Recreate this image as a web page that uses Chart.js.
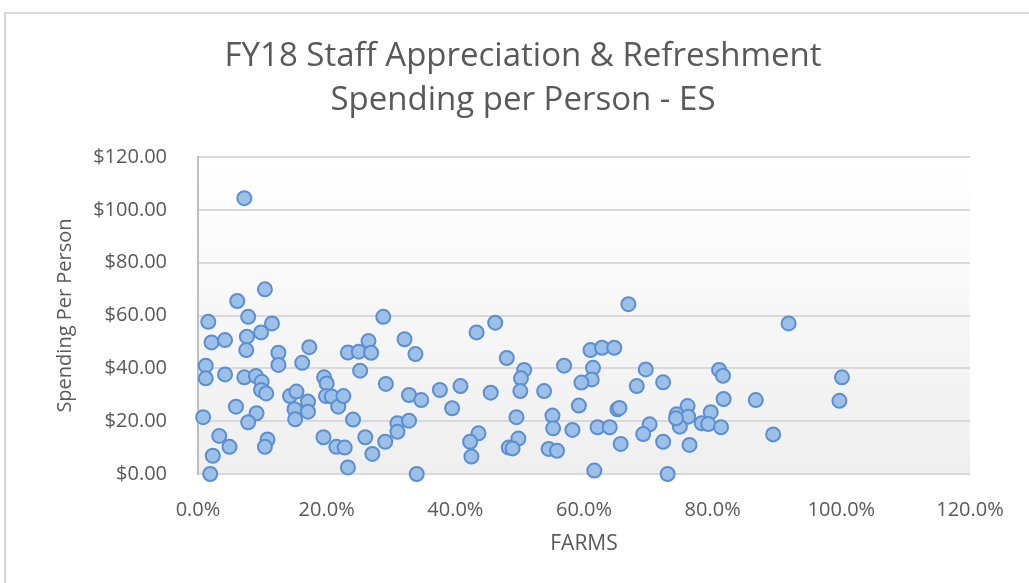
<!DOCTYPE html>
<html>
<head>
<meta charset="utf-8">
<script src="https://cdn.jsdelivr.net/npm/chart.js@4.4.0/dist/chart.umd.min.js"></script>
<style>
html,body{margin:0;padding:0;background:#fff;}
#wrap{position:relative;width:1029px;height:583px;overflow:hidden;}
#frame{position:absolute;left:4px;top:12px;width:1100px;height:700px;border:2px solid #d9d9d9;box-sizing:border-box;}
canvas{position:absolute;left:0;top:0;}
</style>
</head>
<body>
<div id="wrap">
    <div id="frame"></div>
    <canvas id="chart" width="1029" height="583"></canvas>
</div>
<script>

/* =========================================
   Data
========================================= */

const chartTitle = ["FY18 Staff Appreciation & Refreshment", "Spending per Person - ES"];

// FARMS share, in percent
const farmsPct = [
    7.2, 10.4, 6.1, 1.6, 7.8, 11.5, 9.8, 7.6, 2.1, 4.2,
    7.5, 12.5, 17.3, 12.5, 16.2, 1.2, 1.2, 4.2, 7.2, 9.0,
    9.9, 9.8, 10.6, 14.3, 15.3, 15.0, 15.1, 17.1, 17.1, 19.6,
    20.0, 19.9, 20.8, 21.8, 22.6, 23.3, 0.8, 5.9, 9.1, 7.8,
    3.3, 4.9, 10.8, 10.4, 2.3, 1.9, 19.5, 21.5, 22.8, 23.3,
    24.1, 28.8, 26.5, 25.0, 26.9, 32.1, 33.8, 43.3, 46.2, 25.2,
    29.2, 32.8, 34.7, 37.6, 40.8, 45.5, 39.5, 31.0, 32.8, 31.0,
    26.0, 29.1, 27.1, 34.0, 43.6, 42.3, 42.5, 48.3, 66.9, 48.0,
    61.0, 62.8, 64.7, 50.7, 50.2, 50.1, 56.9, 61.4, 61.2, 59.6,
    53.8, 69.6, 68.2, 72.3, 59.2, 65.2, 65.5, 49.5, 55.1, 55.2,
    58.2, 62.1, 64.0, 70.2, 69.2, 72.3, 49.8, 48.9, 54.5, 55.8,
    65.7, 61.6, 73.0, 91.8, 81.0, 81.6, 100.1, 99.7, 81.7, 86.7,
    76.1, 74.4, 76.2, 79.7, 74.9, 74.3, 78.3, 79.3, 81.3, 89.4,
    76.4
];

// Spending per person, in dollars
const spending = [
    104.4, 69.9, 65.5, 57.6, 59.5, 57.0, 53.6, 52.0, 49.8, 50.7,
    46.9, 45.9, 48.0, 41.3, 42.1, 41.0, 36.2, 37.7, 36.6, 37.1,
    34.9, 31.8, 30.5, 29.5, 31.2, 24.5, 20.7, 27.4, 23.6, 36.6,
    34.3, 29.5, 29.3, 25.5, 29.5, 46.0, 21.5, 25.5, 23.0, 19.6,
    14.4, 10.3, 13.1, 10.3, 6.9, 0.0, 13.9, 10.3, 10.0, 2.5,
    20.6, 59.5, 50.3, 46.3, 45.9, 51.0, 45.4, 53.6, 57.3, 39.1,
    34.1, 29.9, 28.0, 31.8, 33.3, 30.8, 24.9, 19.2, 20.2, 16.0,
    13.9, 12.2, 7.6, 0.0, 15.4, 12.2, 6.6, 10.0, 64.3, 43.9,
    46.9, 47.8, 47.8, 39.4, 36.2, 31.4, 41.0, 40.2, 35.8, 34.6,
    31.4, 39.6, 33.3, 34.7, 25.9, 24.5, 25.0, 21.5, 22.1, 17.3,
    16.7, 17.7, 17.7, 18.8, 15.1, 12.2, 13.4, 9.7, 9.5, 8.8,
    11.4, 1.3, 0.0, 57.0, 39.4, 37.2, 36.6, 27.7, 28.4, 28.0,
    25.7, 22.6, 21.7, 23.4, 17.9, 21.1, 19.2, 18.9, 17.7, 15.0,
    11.0
];

const xTickLabels = ["0.0%", "20.0%", "40.0%", "60.0%", "80.0%", "100.0%", "120.0%"];
const yTickLabels = ["$0.00", "$20.00", "$40.00", "$60.00", "$80.00", "$100.00", "$120.00"];


/* =========================================
   Plot area background (soft gradient)
========================================= */

const plotBackground = {
    id: "plotBackground",
    beforeDraw(chart){
        const {ctx, chartArea:a} = chart;
        const g = ctx.createLinearGradient(0, a.top, 0, a.bottom);
        g.addColorStop(0, "#ffffff");
        g.addColorStop(1, "#efefef");
        ctx.save();
        ctx.fillStyle = g;
        ctx.fillRect(a.left, a.top, a.right - a.left, a.bottom - a.top);
        ctx.restore();
    }
};


/* =========================================
   Chart
========================================= */

const textColor = "#595959";
const fontFamily = "'Open Sans', 'Liberation Sans', sans-serif";

const points = farmsPct.map((x, i) => ({x, y: spending[i]}));

// left padding shifts the centred title to where Excel put it
const leftPad = 76;

new Chart(document.getElementById("chart").getContext("2d"), {
    type: "scatter",
    data: {
        datasets: [{
            label: "Spending Per Person",
            data: points,
            pointRadius: 7,
            pointHoverRadius: 7,
            pointBackgroundColor: "#9cc0e8",
            pointBorderColor: "#5b8fd1",
            pointBorderWidth: 2,
            clip: false
        }]
    },
    options: {
        responsive: false,
        animation: false,
        devicePixelRatio: 1,
        layout: {
            padding: {top: 35, right: 59, bottom: 0, left: leftPad}
        },
        plugins: {
            legend: {display: false},
            tooltip: {enabled: false},
            title: {
                display: true,
                text: chartTitle,
                color: textColor,
                font: {family: fontFamily, size: 33, weight: "normal", lineHeight: 44 / 33},
                padding: {top: 0, bottom: 34}
            }
        },
        scales: {
            x: {
                type: "linear",
                min: 0,
                max: 120,
                ticks: {
                    stepSize: 20,
                    color: textColor,
                    font: {family: fontFamily, size: 20},
                    padding: 16,
                    callback: v => xTickLabels[Math.round(v / 20)]
                },
                grid: {display: false},
                border: {display: false},
                title: {
                    display: true,
                    text: "FARMS",
                    color: textColor,
                    font: {family: fontFamily, size: 21},
                    padding: {top: 0, bottom: 26}
                },
                afterFit: scale => { scale.height = 109; }
            },
            y: {
                min: 0,
                max: 120,
                ticks: {
                    stepSize: 20,
                    color: textColor,
                    font: {family: fontFamily, size: 20},
                    padding: 31,
                    callback: v => yTickLabels[Math.round(v / 20)]
                },
                grid: {
                    color: "#d9d9d9",
                    lineWidth: 2,
                    drawTicks: false
                },
                border: {display: true, color: "#bfbfbf", width: 2},
                title: {
                    display: true,
                    text: "Spending Per Person",
                    color: textColor,
                    font: {family: fontFamily, size: 20},
                    padding: {top: 65 - leftPad - 12, bottom: 0}
                },
                afterFit: scale => { scale.width = 198 - leftPad; }
            }
        }
    },
    plugins: [plotBackground]
});

</script>
</body>
</html>
